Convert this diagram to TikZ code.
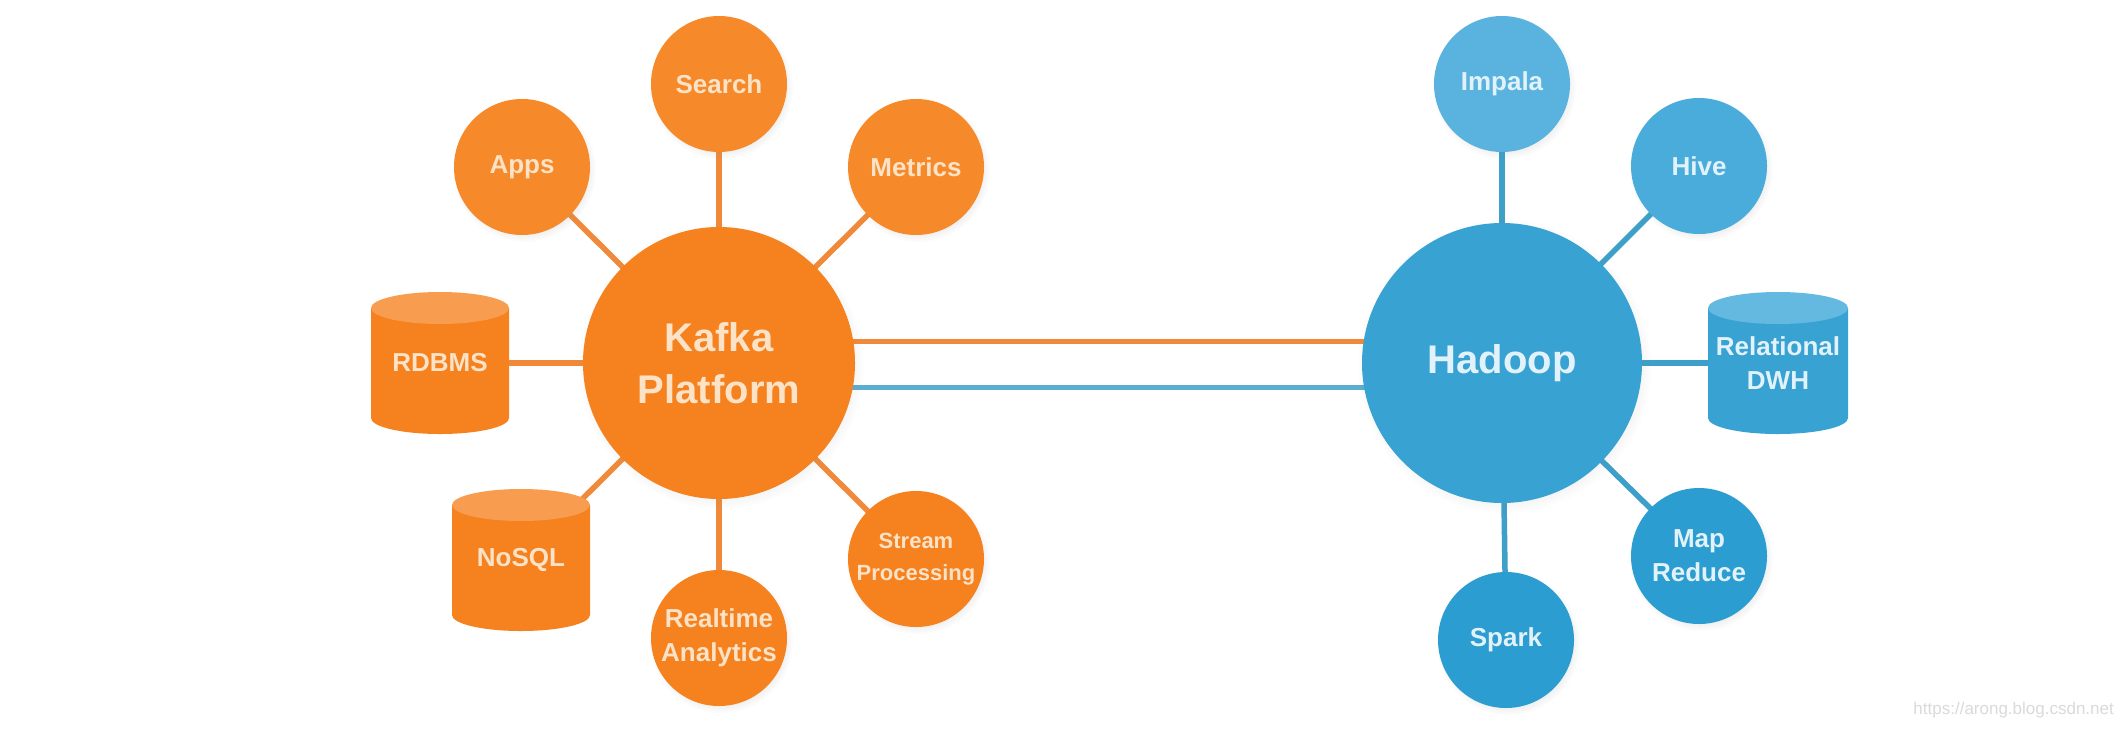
\documentclass[tikz,border=0pt]{standalone}
\usepackage{fontspec}
\setmainfont{Liberation Sans}
\usetikzlibrary{backgrounds,shadows}
\definecolor{kOr}{HTML}{F5811F}
\definecolor{kOrL}{HTML}{F68A2A}
\definecolor{kOrTop}{HTML}{F89C50}
\definecolor{kLine}{HTML}{F08A3A}
\definecolor{kTxt}{HTML}{FCE2C6}
\definecolor{hBl}{HTML}{38A2D2}
\definecolor{hBlL}{HTML}{5AB3DF}
\definecolor{hBlM}{HTML}{4AACDA}
\definecolor{hBlD}{HTML}{2C9DD0}
\definecolor{hBlTop}{HTML}{64B9E1}
\definecolor{hLine}{HTML}{3E9FC9}
\definecolor{hTxt}{HTML}{E2F2FA}
\definecolor{wm}{HTML}{DADADA}
\tikzset{
  basenode/.style={inner sep=0pt, align=center, font=\bfseries\fontsize{26}{34}\selectfont},
  sat/.style={basenode, circle, minimum size=136pt,
    circular drop shadow={shadow scale=1.06, opacity=0.15, shadow xshift=2pt, shadow yshift=-3pt}},
  hub/.style={basenode, circle, font=\bfseries\fontsize{40}{52}\selectfont,
    circular drop shadow={shadow scale=1.05, opacity=0.15, shadow xshift=2pt, shadow yshift=-3pt}},
  osat/.style={sat, fill=kOrL, text=kTxt},
  bsat/.style={sat, fill=hBl, text=hTxt},
  cyl/.style n args={3}{basenode, rectangle, minimum width=2*#3, minimum height=142pt,
    path picture={
      \fill[#1] ([yshift=-16pt]path picture bounding box.north west) --
        ([yshift=16pt]path picture bounding box.south west)
        arc[start angle=180, end angle=360, x radius=#3, y radius=16pt] --
        ([yshift=-16pt]path picture bounding box.north east) -- cycle;
      \fill[#2] ([yshift=-16pt]path picture bounding box.north) ellipse[x radius=#3, y radius=16pt];
    }},
  olink/.style={draw=kLine, line width=5.5pt},
  blink/.style={draw=hLine, line width=5.5pt},
}
\begin{document}
\begin{tikzpicture}[x=1pt, y=-1pt]
\useasboundingbox (0,0) rectangle (2128,732);

% Kafka side
\node[hub, minimum size=272pt, fill=kOr, text=kTxt] (kafka) at (719,363) {Kafka\\Platform};
\node[osat] (search) at (719,84) {Search};
\node[osat] (apps) at (522,167) {Apps};
\node[osat] (metrics) at (916,167) {Metrics};
\node[osat, fill=kOr] (stream) at (916,559) {\fontsize{22}{28}\selectfont Stream\\[-2pt]\fontsize{22}{28}\selectfont Processing};
\node[osat, fill=kOr] (realtime) at (719,638) {Realtime\\Analytics};
\node[cyl={kOr}{kOrTop}{69pt}, text=kTxt] (rdbms) at (440,363) {RDBMS};
\node[cyl={kOr}{kOrTop}{69pt}, text=kTxt] (nosql) at (521,560) {NoSQL};

% Hadoop side
\node[hub, minimum size=280pt, fill=hBl, text=hTxt] (hadoop) at (1502,363) {Hadoop};
\node[bsat, fill=hBlL] (impala) at (1502,84) {Impala};
\node[bsat, fill=hBlM] (hive) at (1699,166) {Hive};
\node[bsat, fill=hBlD] (mapreduce) at (1699,556) {Map\\Reduce};
\node[bsat, fill=hBlD] (spark) at (1506,640) {Spark};
\node[cyl={hBl}{hBlTop}{70pt}, text=hTxt] (dwh) at (1778,363) {Relational\\DWH};

\begin{scope}[on background layer]
  \fill[white] (0,0) rectangle (2128,732);
  \foreach \n in {search,apps,metrics,stream,realtime,rdbms,nosql}
    \draw[olink] (kafka.center) -- (\n.center);
  \foreach \n in {impala,hive,mapreduce,spark,dwh}
    \draw[blink] (hadoop.center) -- (\n.center);
  \draw[draw=kLine, line width=5pt] ([yshift=22pt]kafka.center) -- ([yshift=22pt]hadoop.center);
  \draw[draw=hLine!85!white, line width=5pt] ([yshift=-24pt]kafka.center) -- ([yshift=-24pt]hadoop.center);
\end{scope}

\node[anchor=base east, inner sep=0pt, text=wm, font=\fontsize{17}{20}\selectfont] (wmark) at (2114,714) {https://arong.blog.csdn.net};
\end{tikzpicture}
\end{document}
